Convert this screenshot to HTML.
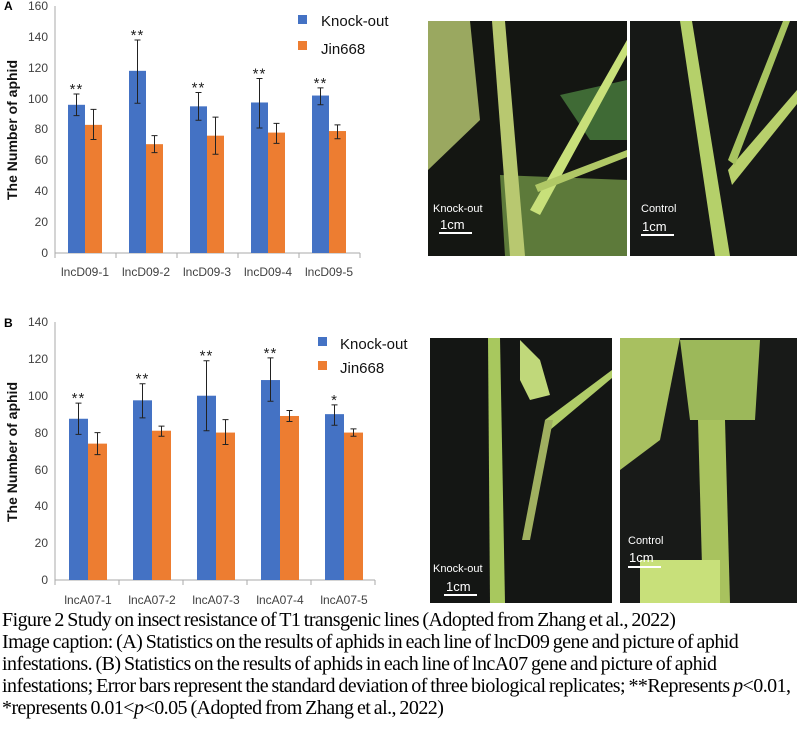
<!DOCTYPE html>
<html><head><meta charset="utf-8"><style>
body{margin:0;background:#fff;width:800px;height:731px;overflow:hidden;position:relative}
svg{position:absolute;left:0;top:0}
.cap{position:absolute;left:2px;top:609px;font-family:"Liberation Serif",serif;font-size:20px;line-height:22px;color:#000;letter-spacing:-0.55px;word-spacing:-1px;white-space:nowrap}
</style></head><body>
<svg width="800" height="731" xmlns="http://www.w3.org/2000/svg" font-family="Liberation Sans, sans-serif">
<!-- Chart A -->
<g font-size="12" fill="#404040" text-anchor="end">
<text x="48" y="10">160</text><text x="48" y="41">140</text><text x="48" y="72">120</text>
<text x="48" y="103">100</text><text x="48" y="133">80</text><text x="48" y="164">60</text>
<text x="48" y="195">40</text><text x="48" y="226">20</text><text x="48" y="257">0</text>
</g>
<text x="4" y="10" font-size="12" font-weight="bold">A</text>
<text transform="translate(17,130) rotate(-90)" font-size="14" font-weight="bold" text-anchor="middle" fill="#111">The Number of  aphid</text>
<line x1="55" y1="6" x2="55" y2="253" stroke="#aaa"/>
<line x1="55" y1="253" x2="360" y2="253" stroke="#aaa"/>
<g stroke="#aaa"><line x1="116" y1="253" x2="116" y2="258"/><line x1="177" y1="253" x2="177" y2="258"/><line x1="238" y1="253" x2="238" y2="258"/><line x1="299" y1="253" x2="299" y2="258"/><line x1="360" y1="253" x2="360" y2="258"/><line x1="55" y1="253" x2="55" y2="258"/></g>
<g id="A"></g>
<g font-size="12" fill="#404040" text-anchor="middle">
<text x="85" y="276">lncD09-1</text><text x="146" y="276">lncD09-2</text><text x="207" y="276">lncD09-3</text><text x="268" y="276">lncD09-4</text><text x="329" y="276">lncD09-5</text>
</g>
<rect x="298" y="15" width="9" height="9" fill="#4472c4"/><text x="321" y="26" font-size="15" fill="#111">Knock-out</text>
<rect x="298" y="41" width="9" height="9" fill="#ed7d31"/><text x="321" y="54" font-size="15" fill="#111">Jin668</text>
<!-- Chart B -->
<g font-size="12" fill="#404040" text-anchor="end">
<text x="48" y="326">140</text><text x="48" y="363">120</text><text x="48" y="400">100</text>
<text x="48" y="437">80</text><text x="48" y="474">60</text><text x="48" y="510">40</text>
<text x="48" y="547">20</text><text x="48" y="584">0</text>
</g>
<text x="4" y="327" font-size="12" font-weight="bold">B</text>
<text transform="translate(17,452) rotate(-90)" font-size="14" font-weight="bold" text-anchor="middle" fill="#111">The Number of  aphid</text>
<line x1="55" y1="322" x2="55" y2="580" stroke="#aaa"/>
<line x1="55" y1="580" x2="375" y2="580" stroke="#aaa"/>
<g stroke="#aaa"><line x1="55" y1="580" x2="55" y2="585"/><line x1="119" y1="580" x2="119" y2="585"/><line x1="183" y1="580" x2="183" y2="585"/><line x1="247" y1="580" x2="247" y2="585"/><line x1="311" y1="580" x2="311" y2="585"/><line x1="375" y1="580" x2="375" y2="585"/></g>
<g id="B"></g>
<g font-size="12" fill="#404040" text-anchor="middle">
<text x="88" y="604">lncA07-1</text><text x="152" y="604">lncA07-2</text><text x="216" y="604">lncA07-3</text><text x="280" y="604">lncA07-4</text><text x="344" y="604">lncA07-5</text>
</g>
<rect x="318" y="337" width="9" height="9" fill="#4472c4"/><text x="340" y="349" font-size="15" fill="#111">Knock-out</text>
<rect x="318" y="361" width="9" height="9" fill="#ed7d31"/><text x="340" y="373" font-size="15" fill="#111">Jin668</text>
<!-- Photos -->
<rect x="428" y="21" width="199" height="235" fill="#141612"/>
<path d="M428 21 L470 21 L480 120 L428 170Z" fill="#9aa860"/>
<path d="M500 175 L627 180 L627 256 L505 256Z" fill="#5d7a3a"/>
<path d="M560 95 L627 80 L627 140 L590 140Z" fill="#3f6a35"/>
<path d="M492 21 L505 21 L525 256 L510 256Z" fill="#b8c870"/>
<path d="M530 210 L627 40 L627 55 L540 215Z" fill="#c8e07a"/>
<path d="M535 185 L627 150 L627 157 L538 192Z" fill="#b0c866"/>
<rect x="630" y="21" width="167" height="235" fill="#161816"/>
<path d="M680 21 L692 21 L730 256 L715 256Z" fill="#b5d06a"/>
<path d="M728 170 L797 90 L797 104 L732 185Z" fill="#b8d06c"/>
<path d="M728 160 L783 21 L790 21 L735 165Z" fill="#a8c460"/>
<rect x="430" y="338" width="182" height="265" fill="#141614"/>
<path d="M488 338 L500 338 L505 603 L490 603Z" fill="#a8c85e"/>
<path d="M520 340 L540 360 L550 395 L530 400 L520 380Z" fill="#c0d87a"/>
<path d="M545 420 L612 370 L612 378 L550 430Z" fill="#b0cc68"/>
<path d="M545 420 L553 420 L530 540 L522 540Z" fill="#a0b060"/>
<rect x="620" y="338" width="177" height="265" fill="#181a18"/>
<path d="M620 338 L680 338 L660 440 L620 470Z" fill="#a8c060"/>
<path d="M680 340 L760 340 L755 420 L690 420Z" fill="#9cb85a"/>
<path d="M698 420 L725 420 L730 603 L703 603Z" fill="#a8c25e"/>
<path d="M640 560 L720 560 L720 603 L640 603Z" fill="#c8e07a"/>
<g fill="#fff" font-size="11">
<text x="433" y="212">Knock-out</text><text x="440" y="229" font-size="13">1cm</text>
<rect x="439" y="232" width="33" height="2"/>
<text x="641" y="212">Control</text><text x="642" y="231" font-size="13">1cm</text>
<rect x="641" y="234" width="33" height="2"/>
<text x="433" y="572">Knock-out</text><text x="446" y="591" font-size="13">1cm</text>
<rect x="444" y="594" width="33" height="2"/>
<text x="628" y="544">Control</text><text x="629" y="562" font-size="13">1cm</text>
<rect x="628" y="566" width="33" height="2"/>
</g>
</svg>
<script>
function draw(id,y0,sc,x0,sp,bw,b,o,be,oe,st){
 var s='';
 for(var i=0;i<5;i++){
  var c=x0+i*sp;
  var yb=y0-b[i]*sc, yo=y0-o[i]*sc;
  s+='<rect x="'+(c-bw)+'" y="'+yb+'" width="'+bw+'" height="'+(y0-yb)+'" fill="#4472c4"/>';
  s+='<rect x="'+c+'" y="'+yo+'" width="'+bw+'" height="'+(y0-yo)+'" fill="#ed7d31"/>';
  [[c-bw/2,be[i]],[c+bw/2,oe[i]]].forEach(function(e){
   var a=y0-e[1][0]*sc,t=y0-e[1][1]*sc,x=e[0];
   s+='<path d="M'+x+' '+a+'V'+t+'M'+(x-3)+' '+a+'H'+(x+3)+'M'+(x-3)+' '+t+'H'+(x+3)+'" stroke="#222" stroke-width="1" fill="none"/>';
  });
  var ty=y0-be[i][1]*sc-6;
  s+='<text x="'+(c-bw/2)+'" y="'+(ty+6)+'" font-size="15" fill="#222" text-anchor="middle" letter-spacing="1">'+st[i]+'</text>';
 }
 document.getElementById(id).innerHTML=s;
}
draw('A',253,247/160,85,61,17,[96,118,95,97.5,102],[83,70.5,76,78,79],
 [[89,103],[97,138],[86,104],[81,113],[96,107]],[[73.5,93],[65,76],[64,88],[71,84],[74,83]],['**','**','**','**','**']);
draw('B',580,258/140,88,64,19,[87.5,97.5,100,108.5,90],[74,81,80,89,80],
 [[79,96],[88,106.5],[81,119],[97,120.5],[84,95]],[[68,80],[78,83.5],[73.5,87],[86,92],[78,82]],['**','**','**','**','*']);
</script>
<div class="cap">Figure 2 Study on insect resistance of T1 transgenic lines (Adopted from Zhang et al., 2022)<br>Image caption: (A) Statistics on the results of aphids in each line of lncD09 gene and picture of aphid<br>infestations. (B) Statistics on the results of aphids in each line of lncA07 gene and picture of aphid<br>infestations; Error bars represent the standard deviation of three biological replicates; **Represents <i>p</i>&lt;0.01,<br>*represents 0.01&lt;<i>p</i>&lt;0.05 (Adopted from Zhang et al., 2022)</div>
</body></html>
